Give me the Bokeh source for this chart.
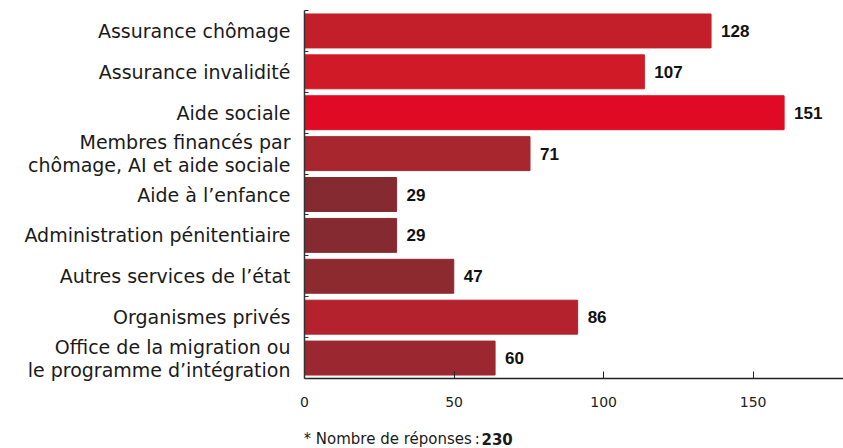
from bokeh.plotting import figure
from bokeh.models import FixedTicker, Label, ColumnDataSource, Range1d, LinearAxis
from bokeh.layouts import column
from bokeh.core.properties import value
from bokeh.embed import file_html
from bokeh.resources import INLINE

categories = [
    "Assurance chômage",
    "Assurance invalidité",
    "Aide sociale",
    "Membres financés par\nchômage, AI et aide sociale",
    "Aide à l’enfance",
    "Administration pénitentiaire",
    "Autres services de l’état",
    "Organismes privés",
    "Office de la migration ou\nle programme d’intégration",
]
values = [128, 107, 151, 71, 29, 29, 47, 86, 60]
colors = ["#C21F2B", "#D01A27", "#E00A24", "#A8262D", "#852A30",
          "#852A30", "#8C2A30", "#B3222D", "#9B2830"]
x_ticks = [0, 50, 100, 150]
footnote = "* Nombre de réponses\u202f:"
footnote_total = "230"

LABEL_FONT = "DejaVu Sans"

ypos = list(range(len(categories)))
src = ColumnDataSource(dict(y=ypos, v=values, c=colors,
                            t=[str(v) for v in values]))

p = figure(width=843, height=412, output_backend="svg", toolbar_location=None,
           x_range=Range1d(0, 169.7), y_range=Range1d(8.5, -0.5),
           x_axis_location=None,
           min_border_left=304, min_border_right=0, min_border_top=10,
           min_border_bottom=34)
p.outline_line_color = None
p.grid.grid_line_color = None
p.background_fill_color = "white"

p.hbar(y="y", right="v", left=0, height=0.83, color="c", source=src)
p.text(x="v", y="y", text="t", source=src, x_offset=10,
       text_font=value("Liberation Sans"), text_font_style="bold",
       text_font_size="17px", text_baseline="middle", text_align="left",
       text_color="#111111")

# x axis (drawn on its own scale, as in the original chart)
p.extra_x_ranges = {"ax": Range1d(0, 180.2)}
xa = LinearAxis(x_range_name="ax", ticker=FixedTicker(ticks=x_ticks))
xa.axis_line_color = "#222222"
xa.axis_line_width = 1.5
xa.major_tick_in = 7
xa.major_tick_out = 0
xa.major_tick_line_color = "#222222"
xa.minor_tick_line_color = None
xa.major_label_text_font = LABEL_FONT
xa.major_label_text_font_size = "14px"
xa.major_label_text_color = "#222222"
xa.major_label_standoff = 18
p.add_layout(xa, "below")

# y axis
ya = p.yaxis[0]
ya.ticker = FixedTicker(ticks=ypos, minor_ticks=[i + 0.5 for i in range(-1, 9)])
ya.major_label_overrides = {i: c for i, c in enumerate(categories)}
ya.axis_line_color = "#333333"
ya.axis_line_width = 1.5
ya.major_tick_line_color = None
ya.minor_tick_in = 4
ya.minor_tick_out = 0
ya.minor_tick_line_color = "#333333"
ya.major_label_text_font = LABEL_FONT
ya.major_label_text_font_size = "19px"
ya.major_label_text_color = "#1a1a1a"
ya.major_label_text_line_height = 1.05
ya.major_label_standoff = 8

# footnote strip
f = figure(width=843, height=36, output_backend="svg", toolbar_location=None,
           x_range=Range1d(0, 843), y_range=Range1d(0, 36),
           x_axis_location=None, y_axis_location=None,
           min_border_left=0, min_border_right=0, min_border_top=0,
           min_border_bottom=0)
f.outline_line_color = None
f.grid.grid_line_color = None
lab1 = Label(x=-1, y=10, x_units="screen", y_units="screen", text=footnote,
             text_font=LABEL_FONT, text_font_size="15px", text_color="#1a1a1a",
             text_baseline="middle")
f.add_layout(lab1)
lab2 = Label(x=177, y=10, x_units="screen", y_units="screen",
             text=footnote_total, text_font=LABEL_FONT, text_font_style="bold",
             text_font_size="15px", text_color="#1a1a1a", text_baseline="middle")
f.add_layout(lab2)

layout = column(p, f, spacing=0)
open("out.html", "w").write(file_html(layout, INLINE))
